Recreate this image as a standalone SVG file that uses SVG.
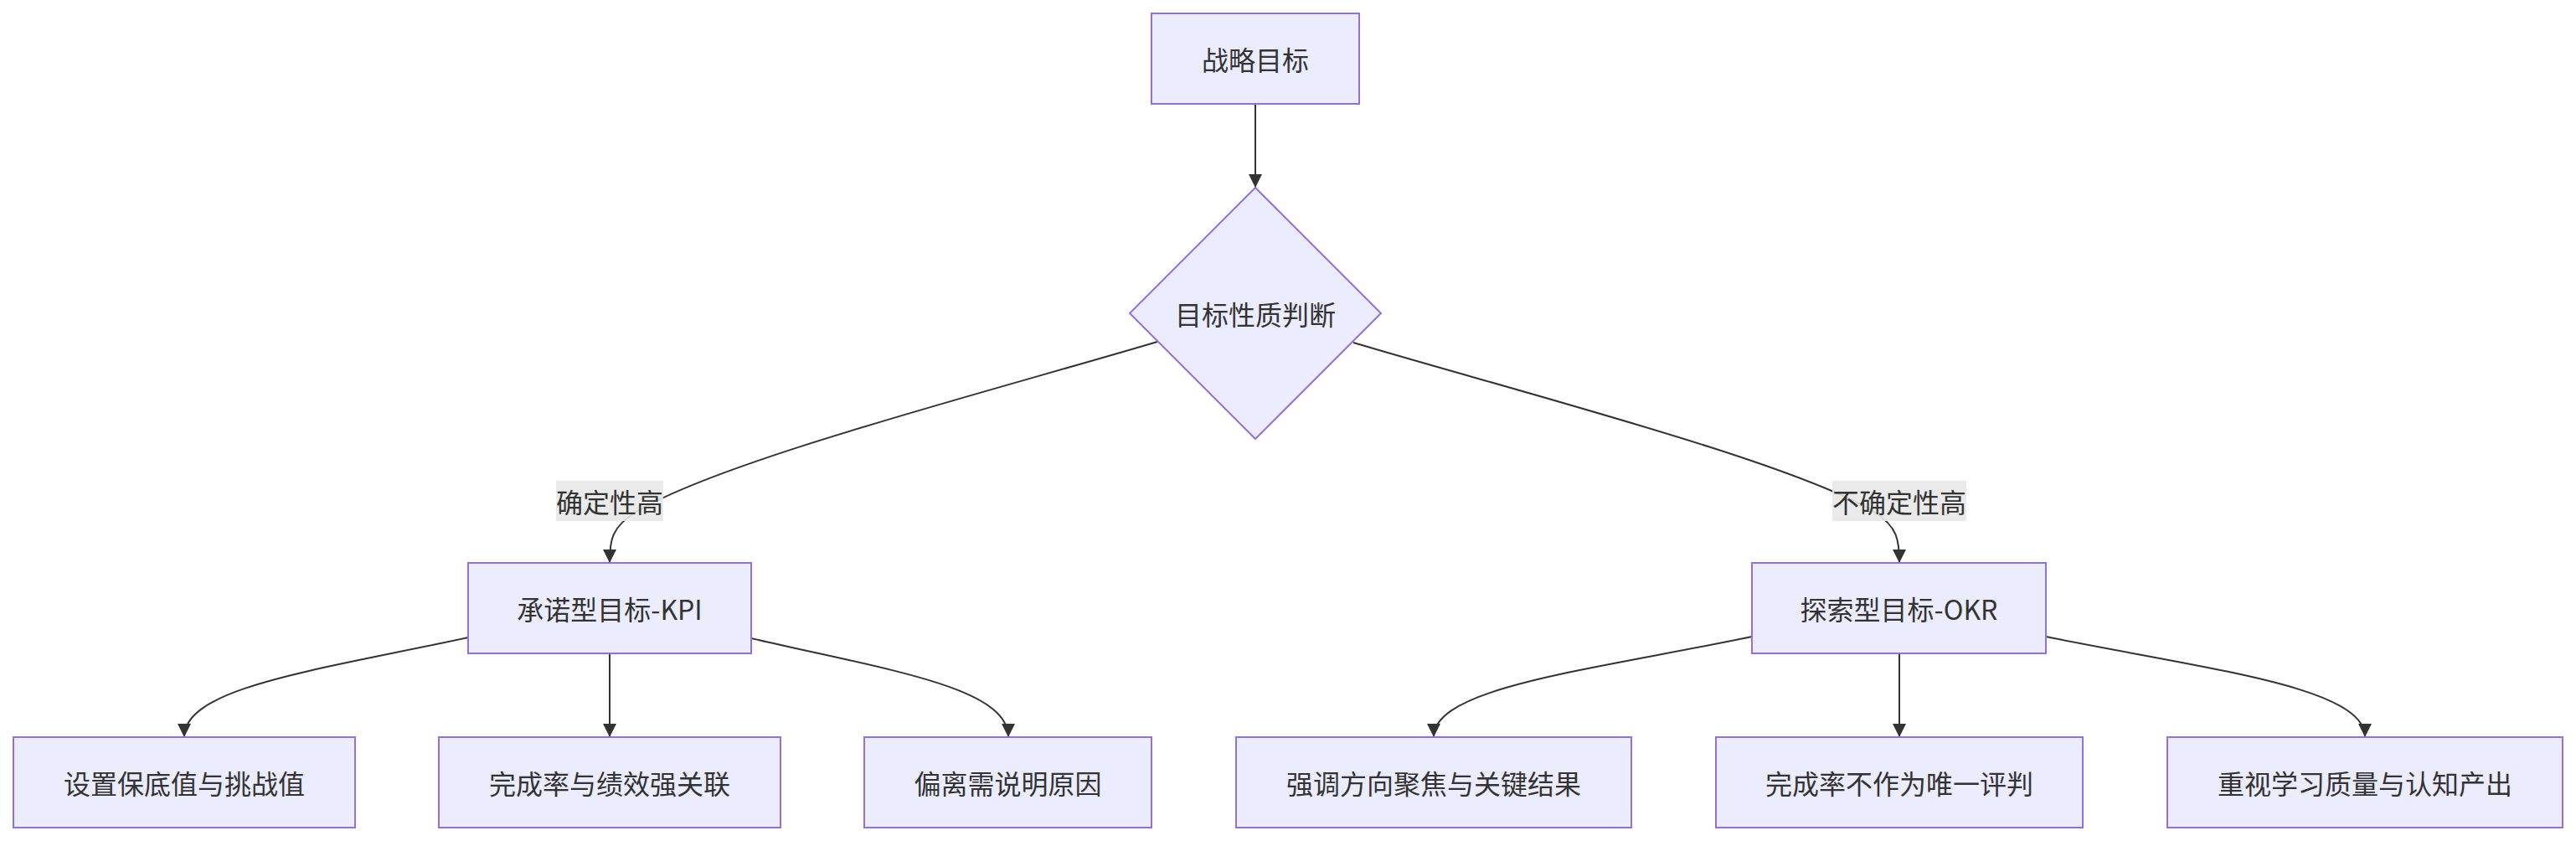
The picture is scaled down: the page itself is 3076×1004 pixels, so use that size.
<svg xmlns="http://www.w3.org/2000/svg" width="3076" height="1004" viewBox="0 0 3076 1004">
<style>
.node rect,.node polygon{fill:#ECECFF;stroke:#9370DB;stroke-width:2}
text{font-family:"Noto Sans CJK SC","Liberation Sans",sans-serif;font-size:32px;fill:#333;text-anchor:middle;dominant-baseline:central}
.edge{fill:none;stroke:#333;stroke-width:2}
.lbl{fill:#e8e8e8;opacity:0.9}
</style>
<defs>
<marker id="arr" markerUnits="userSpaceOnUse" markerWidth="16" markerHeight="16" viewBox="0 0 10 10" refX="10" refY="5" orient="auto">
<path d="M0,0 L10,5 L0,10 z" fill="#333"/>
</marker>
</defs>
<rect width="3076" height="1004" fill="#ffffff"/>
<g id="connectors">
<path class="edge" d="M1499,124 L1499,224" marker-end="url(#arr)"/>
<path class="edge" d="M1382,408 C1180,468 860,550 760,611 C730,629 728,645 728,672" marker-end="url(#arr)"/>
<path class="edge" d="M1616,409 C1818,469 2138,551 2238,611 C2266,629 2268,645 2268,672" marker-end="url(#arr)"/>
<path class="edge" d="M559,761 C380,800 220,820 220,880" marker-end="url(#arr)"/>
<path class="edge" d="M728,780 L728,880" marker-end="url(#arr)"/>
<path class="edge" d="M897,762 C1060,800 1204,820 1204,880" marker-end="url(#arr)"/>
<path class="edge" d="M2092,760 C1900,800 1712,820 1712,880" marker-end="url(#arr)"/>
<path class="edge" d="M2268,780 L2268,880" marker-end="url(#arr)"/>
<path class="edge" d="M2443,760 C2640,800 2824,820 2824,880" marker-end="url(#arr)"/>
<g id="label-left">
<rect class="lbl" x="664" y="574" width="128" height="48"/>
<text x="728" y="598">确定性高</text>
</g>
<g id="label-right">
<rect class="lbl" x="2188" y="574" width="160" height="48"/>
<text x="2268" y="598">不确定性高</text>
</g>
</g>
<g id="n-strategy" class="node">
<rect x="1375" y="16" width="248" height="108"/>
<text x="1499" y="70">战略目标</text>
</g>
<g id="n-judge" class="node">
<polygon points="1499,224 1649,374 1499,524 1349,374"/>
<text x="1499" y="374">目标性质判断</text>
</g>
<g id="n-kpi" class="node">
<rect x="559" y="672" width="338" height="108"/>
<text x="728" y="726">承诺型目标-KPI</text>
</g>
<g id="n-okr" class="node">
<rect x="2092" y="672" width="351" height="108"/>
<text x="2267.5" y="726">探索型目标-OKR</text>
</g>
<g id="n-k1" class="node">
<rect x="16" y="880" width="408" height="108"/>
<text x="220" y="934">设置保底值与挑战值</text>
</g>
<g id="n-k2" class="node">
<rect x="524" y="880" width="408" height="108"/>
<text x="728" y="934">完成率与绩效强关联</text>
</g>
<g id="n-k3" class="node">
<rect x="1032" y="880" width="343" height="108"/>
<text x="1203.5" y="934">偏离需说明原因</text>
</g>
<g id="n-o1" class="node">
<rect x="1476" y="880" width="472" height="108"/>
<text x="1712" y="934">强调方向聚焦与关键结果</text>
</g>
<g id="n-o2" class="node">
<rect x="2049" y="880" width="438" height="108"/>
<text x="2268" y="934">完成率不作为唯一评判</text>
</g>
<g id="n-o3" class="node">
<rect x="2588" y="880" width="472" height="108"/>
<text x="2824" y="934">重视学习质量与认知产出</text>
</g>
</svg>
